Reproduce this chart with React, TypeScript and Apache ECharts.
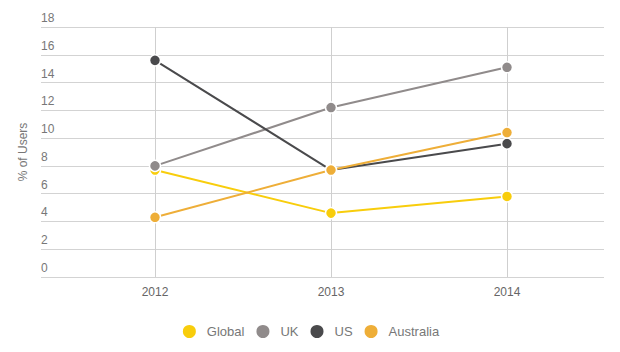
import React, { useEffect, useRef } from "react";
import * as echarts from "echarts";

const years = ["2012", "2013", "2014"];
const globalValues = [7.7, 4.6, 5.8];
const ukValues = [8.0, 12.2, 15.1];
const usValues = [15.6, 7.7, 9.6];
const australiaValues = [4.3, 7.7, 10.4];
const seriesNames = ["Global", "UK", "US", "Australia"];
const seriesColors = ["#f8cd0c", "#908b8b", "#4a4a4c", "#eeae38"];

const FONT = "'Liberation Sans Narrow', 'Liberation Sans', sans-serif";

export default function App() {
  const ref = useRef<HTMLDivElement>(null);
  useEffect(() => {
    if (!ref.current) return;
    const chart = echarts.init(ref.current, undefined, { renderer: "svg" });
    const values = [globalValues, ukValues, usValues, australiaValues];
    chart.setOption({
      animation: false,
      backgroundColor: "#ffffff",
      textStyle: { fontFamily: FONT },
      grid: [
        { left: 41, right: 16, top: 27, bottom: 75 },
        { left: 155, right: 113, top: 27, bottom: 75 },
      ],
      xAxis: [
        {
          gridIndex: 0,
          type: "category",
          data: years,
          show: false,
        },
        {
          gridIndex: 1,
          type: "category",
          data: years,
          boundaryGap: false,
          axisLine: { show: false },
          axisTick: { show: false },
          axisLabel: { color: "#666", fontSize: 12, margin: 9, fontFamily: FONT },
          splitLine: { show: true, lineStyle: { color: "#cfcfcf", width: 1 } },
        },
      ],
      yAxis: [
        {
          gridIndex: 0,
          type: "value",
          min: 0,
          max: 18,
          interval: 2,
          name: "% of Users",
          nameLocation: "middle",
          nameGap: 12,
          nameTextStyle: { color: "#777", fontSize: 12, fontFamily: FONT },
          axisLine: { show: false },
          axisTick: { show: false },
          axisLabel: {
            inside: true,
            margin: 0,
            color: "#777",
            fontSize: 12,
            fontFamily: FONT,
            verticalAlign: "bottom",
            padding: [0, 0, 3, 0],
          },
          splitLine: { show: true, lineStyle: { color: "#d3d3d3", width: 1 } },
        },
        {
          gridIndex: 1,
          type: "value",
          min: 0,
          max: 18,
          interval: 2,
          show: false,
          splitLine: { show: false },
        },
      ],
      legend: {
        bottom: 7,
        left: "center",
        icon: "circle",
        itemWidth: 15,
        itemHeight: 15,
        itemGap: 10,
        textStyle: { color: "#777", fontSize: 13, fontFamily: FONT, padding: [0, 0, 0, 5] },
        data: seriesNames,
      },
      series: seriesNames.map((name, i) => ({
        name,
        type: "line",
        xAxisIndex: 1,
        yAxisIndex: 1,
        data: values[i],
        color: seriesColors[i],
        symbol: "circle",
        symbolSize: 11,
        lineStyle: { width: 2, color: seriesColors[i] },
        itemStyle: { color: seriesColors[i], borderColor: "#ffffff", borderWidth: 1.5 },
      })),
    });
    return () => chart.dispose();
  }, []);
  return <div ref={ref} style={{ width: 620, height: 352, margin: -8 }} />;
}
